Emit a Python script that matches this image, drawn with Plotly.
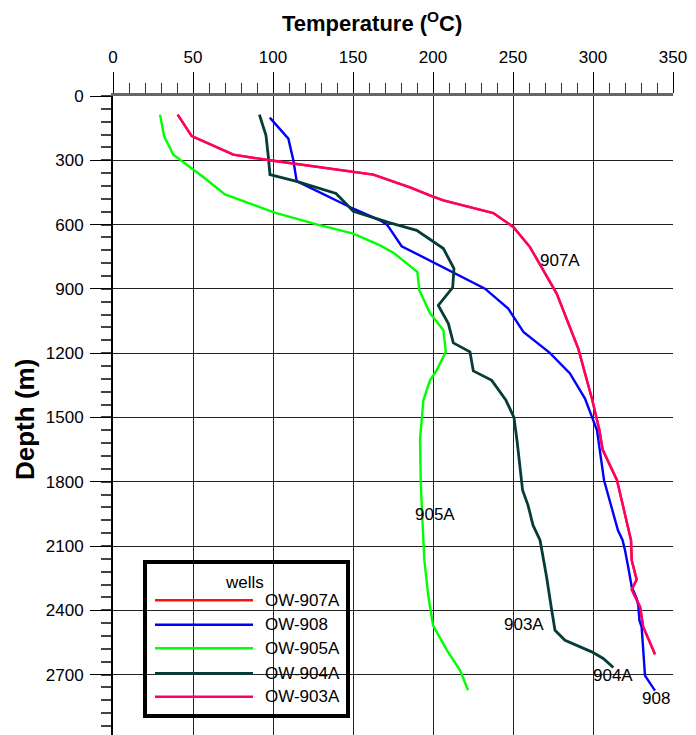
import plotly.graph_objects as go

# ---------------- data ----------------
wells = ["OW-907A", "OW-908", "OW-905A", "OW-904A", "OW-903A"]
colors = ["#ff1010", "#0000ff", "#00ff00", "#053c38", "#ff0066"]

ow903a_temp = [40.4, 49.2, 75.2, 98, 162.7, 173, 185.6, 198, 206.5, 237.7, 250.2, 260.6, 277.3,
               290.8, 299.6, 304, 306, 315, 321, 323.75, 324.2, 327.3, 324.2, 329.4, 331.4, 338.75]
ow903a_depth = [87, 187, 274, 300, 367, 393, 426, 464, 487, 546, 611, 705, 922,
                1179, 1420, 1560, 1650, 1793, 1980, 2073, 2167, 2257, 2303, 2384, 2478, 2605]

# OW-907A lies underneath OW-903A in the picture
ow907a_temp = list(ow903a_temp)
ow907a_depth = list(ow903a_depth)

ow908_temp = [98, 109.6, 112.7, 114.8, 150.2, 166.9, 171, 173, 180.4, 232.5, 247, 256.5, 273, 285.6,
              295, 302.5, 306.9, 311.9, 315.6, 318.5, 320, 322, 324.2, 327.3, 328.3, 329, 330.4,
              332.5, 338.75]
ow908_depth = [101, 199, 300, 397, 526, 580, 599, 619, 701, 899, 992, 1101, 1199, 1295,
               1412, 1560, 1793, 1933, 2027, 2073, 2120, 2198, 2291, 2345, 2377, 2447, 2478,
               2705, 2775]

ow905a_temp = [29.4, 31.9, 37.7, 56.4, 70, 101, 127.3, 150.2, 166.9, 175.2, 190.2, 191.5, 198.1,
               206.5, 208, 202.3, 198.1, 194, 191.9, 192.3, 193.2, 194.6, 197, 200, 208.75, 216.9,
               221.9]
ow905a_depth = [87, 187, 274, 378, 459, 544, 599, 642, 697, 731, 821, 907, 1013,
                1093, 1194, 1280, 1327, 1420, 1600, 1793, 1950, 2166, 2330, 2470, 2587, 2680,
                2773]

ow904a_temp = [91.5, 95.6, 97.1, 98.1, 114.8, 139.4, 150.2, 166.9, 173.1, 189.8, 206.5, 213.1,
               212.3, 203.3, 209.6, 212.7, 223.1, 225.2, 236.7, 245.6, 250.6, 252.5, 254.4, 256,
               259.4, 262.5, 266.9, 268.5, 271, 274.2, 276.25, 282.5, 299.2, 306.4, 312.7]
ow904a_depth = [87, 183, 284, 367, 398, 455, 538, 580, 592, 627, 712, 805,
                894, 977, 1062, 1152, 1194, 1283, 1327, 1420, 1500, 1607, 1747, 1840,
                1910, 2003, 2073, 2135, 2245, 2400, 2493, 2540, 2594, 2625, 2667]

temps = [ow907a_temp, ow908_temp, ow905a_temp, ow904a_temp, ow903a_temp]
depths = [ow907a_depth, ow908_depth, ow905a_depth, ow904a_depth, ow903a_depth]
widths = [2.4, 2.4, 2.4, 2.8, 2.4]

label_text = ["907A", "905A", "903A", "904A", "908"]
label_temp = [279.4, 201.25, 257, 312.7, 339.4]
label_depth = [767, 1952, 2467, 2703, 2812]

x_ticks = [0, 50, 100, 150, 200, 250, 300, 350]
y_ticks = [0, 300, 600, 900, 1200, 1500, 1800, 2100, 2400, 2700]

FONT = "Arial, Liberation Sans, sans-serif"

# page layout (page pixels; the html body adds an 8 px offset)
OFF = 8
L, R, TOP, BOT = 113, 673, 96, 735
W, H = 696 - OFF, 735 - OFF

def px(xp):
    return (xp - L) / (R - L)

def py(yp):
    return 1 - (yp - TOP) / (BOT - TOP)

fig = go.Figure()
for name, t, d, c, w in zip(wells, temps, depths, colors, widths):
    fig.add_trace(go.Scatter(x=t, y=d, mode="lines", name=name,
                             line=dict(color=c, width=w), showlegend=False))

for txt, t, d in zip(label_text, label_temp, label_depth):
    fig.add_annotation(x=t, y=d, text=txt, showarrow=False,
                       xanchor="center", yanchor="middle",
                       font=dict(family=FONT, size=17, color="black"))

# manual legend (long line samples as in the original)
fig.add_shape(type="rect", xref="paper", yref="paper",
              x0=px(145), x1=px(348), y0=py(716), y1=py(562),
              line=dict(color="black", width=4), fillcolor="rgba(0,0,0,0)", layer="above")
fig.add_annotation(xref="paper", yref="paper", x=px(244), y=py(582), text="wells",
                   xanchor="center", yanchor="middle", showarrow=False,
                   font=dict(family=FONT, size=17, color="black"))
entry_y = [600.3, 624.7, 648.3, 673.3, 696.7]
for name, c, w, ey in zip(wells, colors, widths, entry_y):
    fig.add_shape(type="line", xref="paper", yref="paper",
                  x0=px(155), x1=px(253), y0=py(ey), y1=py(ey),
                  line=dict(color=c, width=w), layer="above")
    fig.add_annotation(xref="paper", yref="paper", x=px(263), y=py(ey), text=name,
                       xanchor="left", yanchor="middle", showarrow=False,
                       font=dict(family=FONT, size=17, color="black"))

# axis titles
fig.add_annotation(xref="paper", yref="paper", x=px(372), y=py(22),
                   text="<b>Temperature (<sup>O</sup>C)</b>", showarrow=False,
                   xanchor="center", yanchor="middle",
                   font=dict(family=FONT, size=22, color="black"))
fig.add_annotation(xref="paper", yref="paper", x=px(25), y=py(420),
                   text="<b>Depth (m)</b>", textangle=-90, showarrow=False,
                   xanchor="center", yanchor="middle",
                   font=dict(family=FONT, size=26, color="black"))

fig.update_layout(
    width=W, height=H,
    margin=dict(l=L - OFF, r=W - (R - OFF), t=TOP - OFF, b=H - (BOT - OFF)),
    paper_bgcolor="white", plot_bgcolor="white",
    font=dict(family=FONT, size=17, color="black"),
    xaxis=dict(side="top", range=[0, 350], tickvals=x_ticks,
               ticks="outside", ticklen=21, tickwidth=1, tickcolor="black",
               ticklabelstandoff=2,
               minor=dict(dtick=10, tick0=0, ticks="outside", ticklen=10,
                          tickwidth=1, tickcolor="#333", showgrid=False),
               showgrid=True, gridcolor="#222", gridwidth=1,
               showline=True, linecolor="#666", linewidth=3,
               zeroline=False, tickfont=dict(size=17)),
    yaxis=dict(range=[2982, 0], tickvals=y_ticks,
               ticks="outside", ticklen=21, tickwidth=1, tickcolor="black",
               ticklabelstandoff=3,
               minor=dict(dtick=60, tick0=0, ticks="outside", ticklen=10,
                          tickwidth=2, tickcolor="#444", showgrid=False),
               showgrid=True, gridcolor="#222", gridwidth=1,
               showline=True, linecolor="black", linewidth=2,
               zeroline=False, tickfont=dict(size=17)),
)

fig.write_html("out.html")
